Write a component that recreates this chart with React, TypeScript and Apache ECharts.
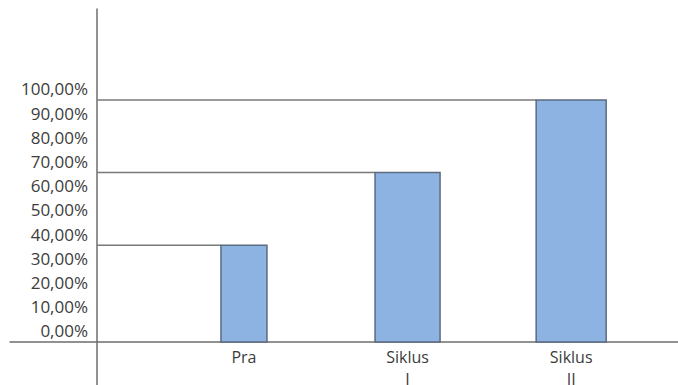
import React, { useEffect, useRef } from "react";
import * as echarts from "echarts";

// ---- data ----
const CATEGORIES = ["Pra", "Siklus\nI", "Siklus\nII"];
const VALUES = [40, 70, 100];
const Y_TICK_VALUES = [0, 10, 20, 30, 40, 50, 60, 70, 80, 90, 100];
const Y_TICK_LABELS = ["0,00%", "10,00%", "20,00%", "30,00%", "40,00%", "50,00%", "60,00%", "70,00%", "80,00%", "90,00%", "100,00%"];

// ---- style / layout constants ----
const BAR_WIDTHS = [46, 65, 70];
const Y_AXIS_INSET = 87; // axis line sits this far right of the grid's left edge
const FONT = "'Open Sans', 'Noto Sans', sans-serif";
const TEXT_COLOR = "#3c3c3c";
const LINE_COLOR = "#6e6e6e";

export default function App() {
  const ref = useRef<HTMLDivElement>(null);

  useEffect(() => {
    if (!ref.current) return;
    const chart = echarts.init(ref.current, undefined, { renderer: "svg" });
    const positions = CATEGORIES.map((_, i) => i + 1);
    chart.setOption({
      animation: false,
      backgroundColor: "#ffffff",
      grid: { left: 10, right: 0, top: 9, bottom: 0, containLabel: false, outerBoundsMode: "none" },
      xAxis: {
        type: "value",
        min: -0.43,
        max: 3.653,
        splitLine: { show: false },
        axisTick: { show: false },
        axisLine: { show: true, onZero: true, lineStyle: { color: LINE_COLOR, width: 1.5 } },
        axisLabel: {
          customValues: positions,
          formatter: (v: number) => CATEGORIES[Math.round(v) - 1] ?? "",
          fontFamily: FONT,
          fontSize: 16,
          lineHeight: 22,
          color: TEXT_COLOR,
          margin: -39,
        },
      },
      yAxis: {
        type: "value",
        min: -17.77,
        max: 137.6,
        offset: -Y_AXIS_INSET,
        splitLine: { show: false },
        axisTick: { show: false },
        axisLine: { show: true, onZero: false, lineStyle: { color: LINE_COLOR, width: 1.5 } },
        axisLabel: {
          customValues: Y_TICK_VALUES,
          formatter: (v: number) => {
            const idx = Y_TICK_VALUES.indexOf(Math.round(v));
            return idx >= 0 ? Y_TICK_LABELS[idx] : "";
          },
          fontFamily: FONT,
          fontSize: 17,
          lineHeight: 22,
          verticalAlign: "bottom",
          color: TEXT_COLOR,
          margin: 9,
        },
      },
      series: [
        {
          type: "custom",
          data: positions.map((p, i) => [p, VALUES[i]]),
          renderItem: (params: any, api: any) => {
            const i = params.dataIndex;
            const x = api.value(0);
            const v = api.value(1);
            const top = api.coord([x, v]);
            const base = api.coord([x, 0]);
            const w = BAR_WIDTHS[i];
            const axisX = params.coordSys.x + Y_AXIS_INSET;
            return {
              type: "group",
              children: [
                {
                  type: "line",
                  shape: { x1: axisX, y1: top[1], x2: top[0] - w / 2, y2: top[1] },
                  style: { stroke: "#7a7a7a", lineWidth: 1.5 },
                },
                {
                  type: "rect",
                  shape: { x: top[0] - w / 2, y: top[1], width: w, height: base[1] - top[1] },
                  style: { fill: "#8DB3E2", stroke: "#5b6b80", lineWidth: 1.5 },
                },
              ],
            };
          },
        },
      ],
    });
    return () => chart.dispose();
  }, []);

  return (
    <div
      ref={ref}
      style={{ position: "fixed", left: 0, top: 0, width: 678, height: 385, background: "#fff" }}
    />
  );
}
